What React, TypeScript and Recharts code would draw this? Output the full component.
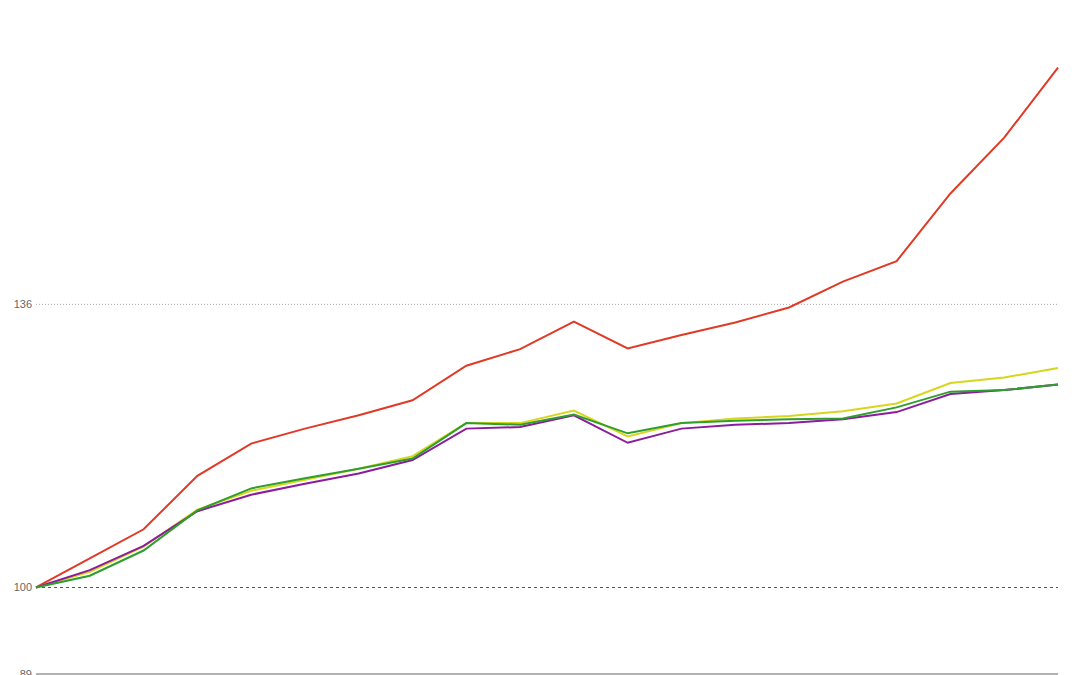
import { LineChart, Line, XAxis, YAxis, ReferenceLine } from 'recharts';

const periods = Array.from({ length: 20 }, (_, i) => `P${i + 1}`);

const redSeries = [100, 103.7, 107.4, 114.2, 118.3, 120.2, 121.9, 123.8, 128.2, 130.3, 133.8, 130.4, 132.1, 133.7, 135.6, 138.9, 141.5, 150.1, 157.2, 166.1];
const yellowSeries = [100, 102.0, 105.2, 109.9, 112.3, 113.7, 115.1, 116.7, 120.9, 120.9, 122.5, 119.2, 120.9, 121.5, 121.8, 122.4, 123.4, 126.0, 126.7, 127.9];
const greenSeries = [100, 101.5, 104.7, 109.8, 112.6, 113.9, 115.1, 116.4, 120.9, 120.7, 122.0, 119.6, 120.9, 121.2, 121.4, 121.5, 122.9, 124.9, 125.1, 125.8];
const purpleSeries = [100, 102.2, 105.3, 109.7, 111.8, 113.2, 114.5, 116.2, 120.2, 120.4, 121.9, 118.4, 120.2, 120.7, 120.9, 121.4, 122.3, 124.6, 125.1, 125.8];

const yTicks = [89, 100, 136];

const data = periods.map((p, i) => ({
  period: p,
  red: redSeries[i],
  yellow: yellowSeries[i],
  green: greenSeries[i],
  purple: purpleSeries[i],
}));

export default function App() {
  return (
    <div style={{ position: 'absolute', left: 0, top: 0, width: 1080, height: 675, background: '#fff' }}>
      <LineChart width={1080} height={675} data={data} margin={{ top: 0, right: 22, bottom: 1, left: 0 }}>
        <XAxis dataKey="period" hide />
        <YAxis
          width={36}
          domain={[89, 174.7]}
          ticks={yTicks}
          interval={0}
          axisLine={false}
          tickLine={false}
          tickSize={4}
          tickMargin={0}
          allowDataOverflow
          tick={{ fill: '#666', fontSize: 11, fontFamily: 'Liberation Sans, Arial, sans-serif' }}
        />
        <ReferenceLine y={136} stroke="#aaa" strokeDasharray="1 2" />
        <ReferenceLine y={100} stroke="#555" strokeDasharray="3 3" />
        <ReferenceLine y={89} stroke="#999" strokeWidth={1.5} />
        <Line dataKey="red" stroke="#e03a26" strokeWidth={2} dot={false} isAnimationActive={false} />
        <Line dataKey="yellow" stroke="#d8d61c" strokeWidth={2} dot={false} isAnimationActive={false} />
        <Line dataKey="purple" stroke="#8b1c9c" strokeWidth={2} dot={false} isAnimationActive={false} />
        <Line dataKey="green" stroke="#2e9e2e" strokeWidth={2} dot={false} isAnimationActive={false} />
      </LineChart>
    </div>
  );
}
